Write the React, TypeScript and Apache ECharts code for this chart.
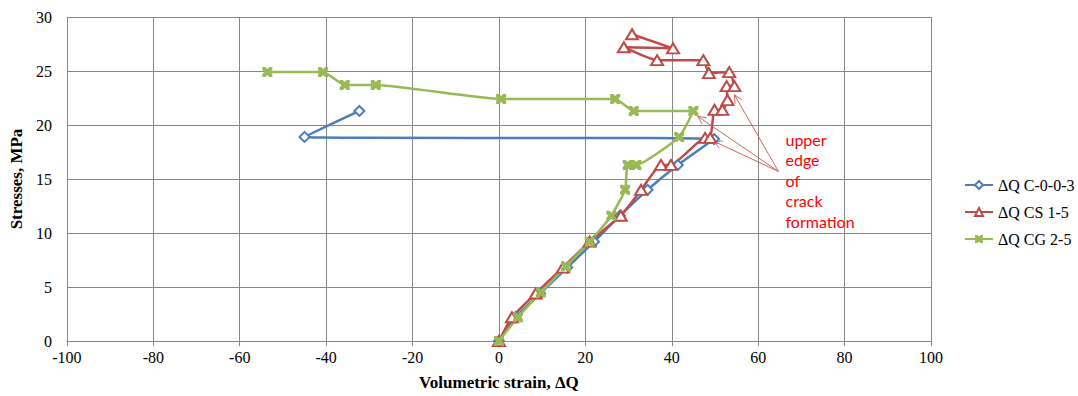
import React, { useEffect, useRef } from "react";
import * as echarts from "echarts";

// Series: ΔQ C-0-0-3
const xC003 = [0, 3.8, 9.5, 15.8, 22.0, 28.0, 34.4, 41.4, 49.8, -45.0, -32.3];
const yC003 = [0, 2.2, 4.4, 6.8, 9.2, 11.6, 14.0, 16.3, 18.7, 18.9, 21.3];

// Series: ΔQ CS 1-5
const xCS15 = [0, 3.0, 8.5, 14.8, 21.0, 28.2, 32.9, 37.5, 39.8, 47.7, 48.9, 49.9, 51.7, 52.9, 52.7, 54.5, 53.3, 48.6, 47.3, 36.6, 28.9, 40.3, 30.8];
const yCS15 = [0, 2.2, 4.4, 6.8, 9.2, 11.6, 14.0, 16.3, 16.3, 18.8, 18.8, 21.4, 21.4, 22.3, 23.6, 23.6, 24.9, 24.8, 26.0, 26.0, 27.2, 27.1, 28.4];

// Series: ΔQ CG 2-5
const xCG25 = [0, 4.4, 9.7, 15.5, 21.0, 26.0, 29.2, 29.8, 31.8, 41.7, 45.0, 31.2, 26.9, 0.5, -28.5, -35.7, -40.7, -53.6];
const yCG25 = [0, 2.2, 4.5, 6.9, 9.2, 11.6, 14.0, 16.3, 16.3, 18.9, 21.3, 21.3, 22.4, 22.4, 23.7, 23.7, 24.9, 24.9];

const seriesNames = ["ΔQ C-0-0-3", "ΔQ CS 1-5", "ΔQ CG 2-5"];

// annotation (data coordinates)
const annotationText = "upper\nedge\nof\ncrack\nformation";
const arrowTail = [64.7, 15.7];
const arrowTips = [
  [54.5, 22.8],
  [46.0, 20.8],
  [49.7, 18.5],
];

const BLUE = "#4a7ebb";
const RED = "#be4b48";
const GREEN = "#98b954";
const GRID = "#878787";
const SERIF = "'Liberation Serif', 'DejaVu Serif', 'Times New Roman', serif";

const xMarker = "path://M0,0 H3 L5,2 L7,0 H10 V3 L8,5 L10,7 V10 H7 L5,8 L3,10 H0 V7 L2,5 L0,3 Z";

const zip = (xs: number[], ys: number[]) => xs.map((x, i) => [x, ys[i]]);

export default function App() {
  const ref = useRef<HTMLDivElement>(null);
  useEffect(() => {
    document.body.style.margin = "0";
    if (!ref.current) return;
    const chart = echarts.init(ref.current, undefined, { renderer: "svg" });
    const axisFont = { fontFamily: SERIF, fontSize: 16, color: "#000" };
    chart.setOption({
      animation: false,
      backgroundColor: "#fff",
      grid: { left: 62, right: 147, top: 17, bottom: 54 },
      legend: {
        orient: "vertical",
        left: 959,
        top: 172,
        itemWidth: 28,
        itemHeight: 10,
        itemGap: 11,
        data: seriesNames,
        textStyle: { fontFamily: SERIF, fontSize: 16, color: "#000" },
      },
      xAxis: {
        type: "value",
        min: -100,
        max: 100,
        interval: 20,
        name: "Volumetric strain, ΔQ",
        nameLocation: "middle",
        nameGap: 33,
        nameTextStyle: { fontFamily: SERIF, fontSize: 17, fontWeight: "bold", color: "#000" },
        axisLine: { show: true, onZero: false, lineStyle: { color: GRID } },
        axisTick: { show: true, length: 5, lineStyle: { color: GRID } },
        splitLine: { show: true, lineStyle: { color: GRID, width: 1 } },
        axisLabel: { ...axisFont, margin: 8 },
      },
      yAxis: {
        type: "value",
        min: 0,
        max: 30,
        interval: 5,
        name: "Stresses, MPa",
        nameLocation: "middle",
        nameGap: 36,
        nameTextStyle: { fontFamily: SERIF, fontSize: 17, fontWeight: "bold", color: "#000" },
        axisLine: { show: true, lineStyle: { color: GRID } },
        axisTick: { show: false },
        splitLine: { show: true, lineStyle: { color: GRID, width: 1 } },
        axisLabel: { ...axisFont, margin: 15 },
      },
      series: [
        {
          name: seriesNames[0],
          type: "line",
          data: zip(xC003, yC003),
          smooth: 0.15,
          symbol: "diamond",
          symbolSize: 10,
          lineStyle: { color: BLUE, width: 2.5 },
          itemStyle: { color: "#fff", borderColor: BLUE, borderWidth: 2 },
        },
        {
          name: seriesNames[1],
          type: "line",
          data: zip(xCS15, yCS15),
          smooth: 0.15,
          symbol: "triangle",
          symbolSize: [12, 10],
          lineStyle: { color: RED, width: 2.5 },
          itemStyle: { color: "#fff", borderColor: RED, borderWidth: 2 },
        },
        {
          name: seriesNames[2],
          type: "line",
          data: zip(xCG25, yCG25),
          smooth: 0.15,
          symbol: xMarker,
          symbolSize: 10,
          lineStyle: { color: GREEN, width: 2.5 },
          itemStyle: { color: GREEN },
        },
      ],
    });

    const tail = chart.convertToPixel({ gridIndex: 0 }, arrowTail) as number[];
    const graphics: any[] = [];
    arrowTips.forEach((t) => {
      const tip = chart.convertToPixel({ gridIndex: 0 }, t) as number[];
      const ang = Math.atan2(tip[1] - tail[1], tip[0] - tail[0]);
      const L = 9;
      const a = 0.45;
      const p1 = [tip[0] - L * Math.cos(ang - a), tip[1] - L * Math.sin(ang - a)];
      const p2 = [tip[0] - L * Math.cos(ang + a), tip[1] - L * Math.sin(ang + a)];
      graphics.push({
        type: "line",
        shape: { x1: tail[0], y1: tail[1], x2: tip[0], y2: tip[1] },
        style: { stroke: "#c86a67", lineWidth: 1 },
      });
      graphics.push({
        type: "polyline",
        shape: { points: [p1, tip, p2] },
        style: { stroke: "#c86a67", lineWidth: 1, fill: null },
      });
    });
    graphics.push({
      type: "text",
      x: tail[0] + 7,
      y: 129,
      style: {
        text: annotationText,
        fill: "#ff0000",
        font: "16px Lato",
        lineHeight: 20.5,
        textVerticalAlign: "top",
      },
    });
    chart.setOption({ graphic: graphics });

    return () => chart.dispose();
  }, []);
  return <div ref={ref} style={{ width: 1078, height: 396 }} />;
}
